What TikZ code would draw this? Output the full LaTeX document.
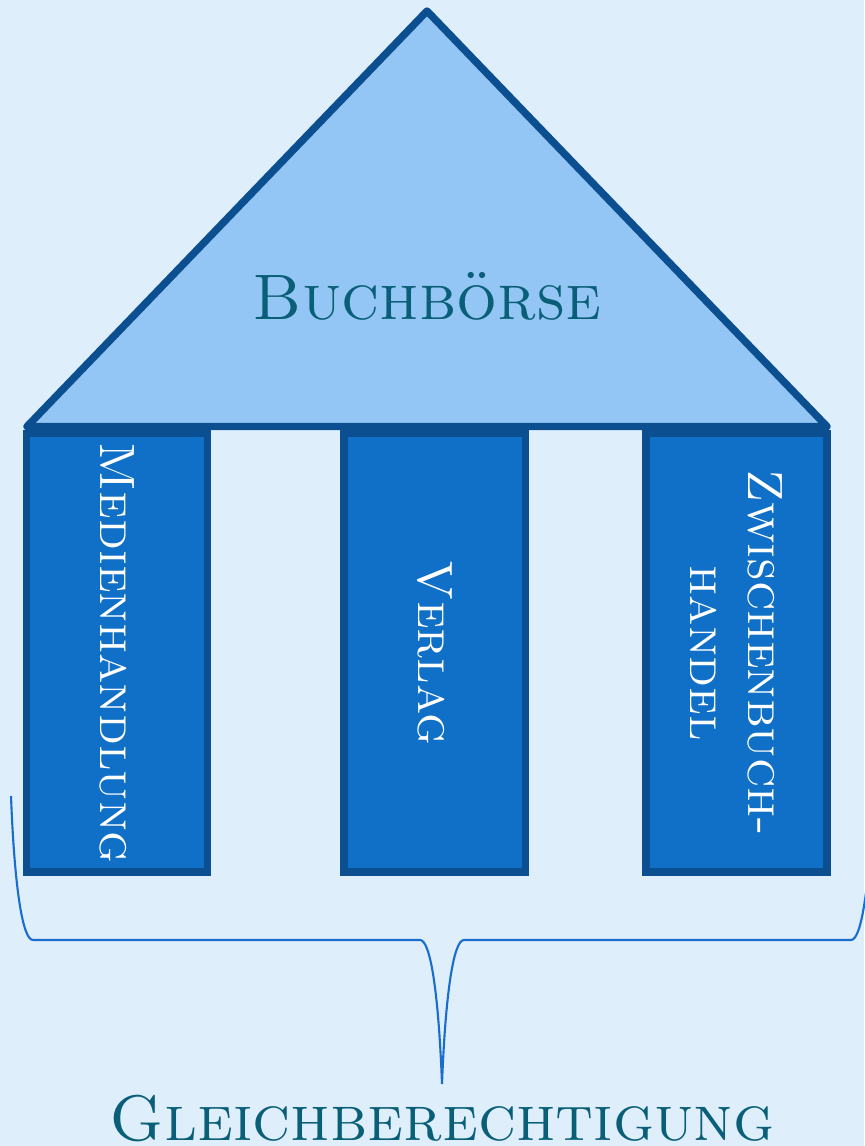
\documentclass[tikz,border=0pt]{standalone}
\usepackage{tikz}
\usetikzlibrary{positioning}

\definecolor{bgblue}{RGB}{223,238,251}
\definecolor{roofblue}{RGB}{147,197,245}
\definecolor{edgeblue}{RGB}{11,79,145}
\definecolor{pillarblue}{RGB}{16,112,199}
\definecolor{braceblue}{RGB}{25,110,205}
\definecolor{titleteal}{RGB}{10,95,120}

\begin{document}
\begin{tikzpicture}[
                x=0.01cm, y=-0.01cm,
                pillar/.style={draw=edgeblue, fill=pillarblue, line width=2.1pt,
                    rotate=-90, inner sep=0pt,
                    minimum width=4.38cm, minimum height=1.81cm,
                    text=white, align=center,
                    font=\fontsize{14.1}{16.3}\selectfont\scshape},
                headline/.style={text=titleteal, inner sep=1pt,
                    font=\fontsize{18.3}{22}\selectfont\scshape} ]

            \fill[bgblue] (0,0) rectangle (864,1146);
            \useasboundingbox (0,0) rectangle (864,1146);

            % roof
            \coordinate (apex) at (427,11);
            \coordinate (eaveL) at (27,426.5);
            \coordinate (eaveR) at (827,426.5);
            \filldraw[
                draw=edgeblue,
                fill=roofblue,
                line width=2.1pt,
                line join=round
            ]
            (apex) -- (eaveR) -- (eaveL) -- cycle;
            \node[headline, anchor=base] (boerse) at (427,320) {Buchbörse};

            % pillars
            \node[pillar] (medien) at (117,652.9) {Medienhandlung};
            \node[pillar] (verlag) at (434.7,652.9) {Verlag};
            \node[pillar] (zwischen) at (736.5,652.9) {Zwischenbuch-\\handel};

            % brace
            \coordinate (braceL) at (11,796);
            \coordinate (braceR) at (873,796);
            \coordinate (tip) at (442,1084);
            \draw[braceblue, line width=0.6pt]
            (braceL) .. controls (14.3,882.4) and (22,940) .. (33,940)
            -- (420,940) .. controls (431,940) and (438.7,997.6) .. (tip)
            .. controls (445.3,997.6) and (453,940) .. (464,940)
            -- (851,940) .. controls (862,940) and (869.7,882.4) .. (braceR);

            \node[headline, anchor=base] (gleich) at (442,1140) {Gleichberechtigung};
        \end{tikzpicture}
\end{document}
